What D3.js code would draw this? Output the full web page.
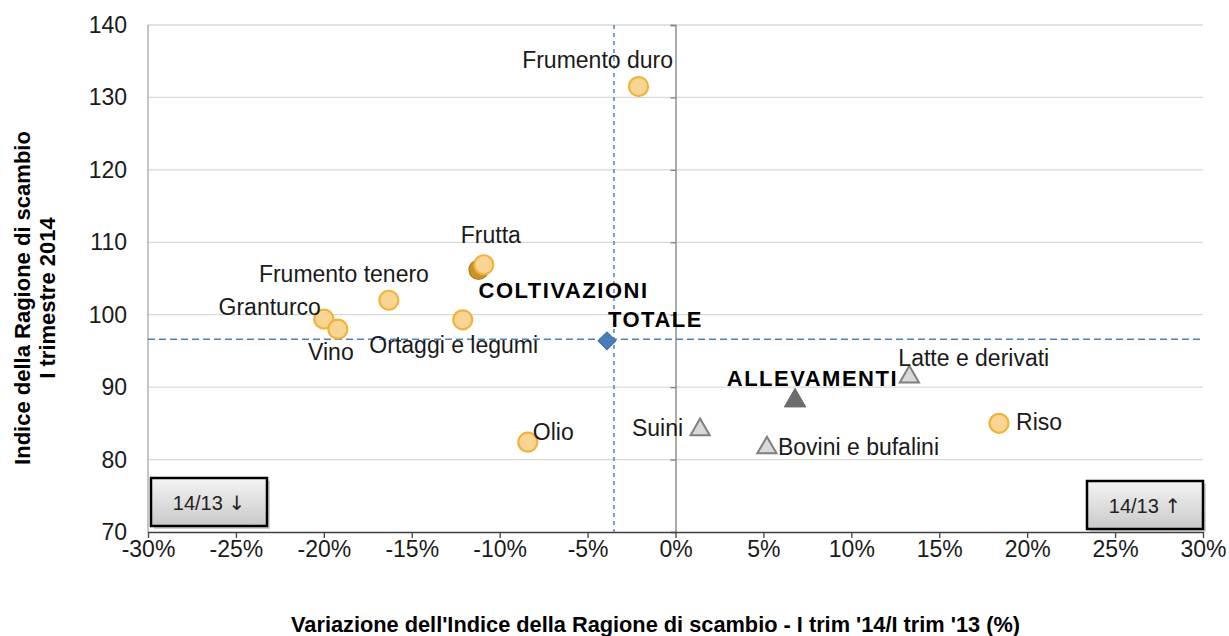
<!DOCTYPE html>
<html lang="it">
<head>
<meta charset="UTF-8">
<title>Ragione di scambio - I trimestre 2014</title>
<script src="https://d3js.org/d3.v7.min.js"></script>
<style>
    body { margin: 0; background: #fff; }
    svg { display: block; font-family: "Liberation Sans", Arial, sans-serif; }
    .tick-lab { font-size: 23px; fill: #1a1a1a; }
    .pt-lab { font-size: 23px; fill: #1a1a1a; }
    .pt-lab.bold { font-weight: bold; font-size: 22px; letter-spacing: 1.5px; fill: #000; }
    .ax-title { font-weight: bold; font-size: 22px; fill: #000; }
    .arrow { font-family: "DejaVu Sans", sans-serif; font-size: 20px; }
</style>
</head>
<body>
<svg width="1229" height="636"></svg>
<script>
    // data
    const names = ["Frumento duro", "Frutta", "COLTIVAZIONI", "Frumento tenero", "Granturco", "Vino",
        "Ortaggi e legumi", "Olio", "TOTALE", "Latte e derivati", "ALLEVAMENTI", "Suini",
        "Bovini e bufalini", "Riso"];
    const variazione = [-2.1, -10.9, -11.2, -16.3, -20.0, -19.2, -12.1, -8.4, -3.9, 13.3, 6.8, 1.4, 5.2, 18.4];
    const indice = [131.5, 106.9, 106.2, 102.0, 99.4, 98.0, 99.3, 82.4, 96.4, 91.7, 88.4, 84.4, 81.9, 85.0];
    const kinds = ["colt", "colt", "coltTot", "colt", "colt", "colt", "colt", "colt", "tot", "all", "allTot",
        "all", "all", "colt"];
    const refX = -3.5;   // vertical dashed line (%)
    const refY = 96.6;   // horizontal dashed line
    const xTicks = [-30, -25, -20, -15, -10, -5, 0, 5, 10, 15, 20, 25, 30];
    const yTicks = [70, 80, 90, 100, 110, 120, 130, 140];

    // label placement: [anchor, dx, dy] relative to the marker
    const labelPos = {
        "Frumento duro": ["middle", -41, -19],
        "Frutta": ["middle", 7, -22],
        "COLTIVAZIONI": ["start", 0, 28],
        "Frumento tenero": ["middle", -45, -18],
        "Granturco": ["end", -3, -4],
        "Vino": ["middle", -7, 31],
        "Ortaggi e legumi": ["middle", -9, 33],
        "Olio": ["start", 5, -2],
        "TOTALE": ["start", 1, -14],
        "Latte e derivati": ["start", -11, -9],
        "ALLEVAMENTI": ["end", 103, -13],
        "Suini": ["end", -17, 8],
        "Bovini e bufalini": ["start", 11, 9],
        "Riso": ["start", 17, 7]
    };

    // draw COLTIVAZIONI first so Frutta sits on top of it
    const order = [2, 0, 1, 3, 4, 5, 6, 7, 8, 9, 10, 11, 12, 13];
    const data = order.map(i => ({name: names[i], x: variazione[i], y: indice[i], kind: kinds[i]}));

    const svg = d3.select("svg");
    const pLeft = 148, pRight = 1203, pTop = 25, pBottom = 532;
    const x = d3.scaleLinear().domain([-30, 30]).range([pLeft, pRight]);
    const y = d3.scaleLinear().domain([70, 140]).range([pBottom, pTop]);

    const defs = svg.append("defs");
    const grad = defs.append("linearGradient").attr("id", "boxGrad")
        .attr("x1", 0).attr("y1", 0).attr("x2", 0).attr("y2", 1);
    grad.append("stop").attr("offset", "0%").attr("stop-color", "#f4f4f4");
    grad.append("stop").attr("offset", "100%").attr("stop-color", "#c9c9c9");

    // horizontal gridlines
    svg.append("g").selectAll("line")
        .data(yTicks.slice(1))
        .enter().append("line")
        .attr("x1", pLeft).attr("x2", pRight)
        .attr("y1", d => y(d)).attr("y2", d => y(d))
        .attr("stroke", "#d9d9d9").attr("stroke-width", 1.3);

    // left border of plot area
    svg.append("line")
        .attr("x1", pLeft).attr("x2", pLeft).attr("y1", pTop).attr("y2", pBottom)
        .attr("stroke", "#a6a6a6").attr("stroke-width", 1.3);

    // y tick labels (low position)
    svg.append("g").selectAll("text")
        .data(yTicks)
        .enter().append("text")
        .attr("class", "tick-lab")
        .attr("x", 127).attr("y", d => y(d) + 8)
        .attr("text-anchor", "end")
        .text(d => d);

    // vertical axis crossing at 0%
    const yAxis = d3.axisLeft(y).tickValues(yTicks).tickSize(5).tickFormat("");
    const yg = svg.append("g").attr("transform", `translate(${x(0)},0)`).call(yAxis);
    yg.select(".domain").attr("stroke", "#7f7f7f").attr("stroke-width", 1.3);
    yg.selectAll(".tick line").attr("stroke", "#7f7f7f").attr("stroke-width", 1.3);

    // x axis
    const xAxis = d3.axisBottom(x).tickValues(xTicks).tickSize(6).tickSizeOuter(0)
        .tickFormat(d => d + "%");
    const xg = svg.append("g").attr("transform", `translate(0,${pBottom})`).call(xAxis);
    xg.attr("font-family", null).attr("font-size", null);
    xg.select(".domain").attr("stroke", "#404040").attr("stroke-width", 1.5);
    xg.selectAll(".tick line").attr("stroke", "#404040").attr("stroke-width", 1.3);
    xg.selectAll(".tick text").attr("class", "tick-lab").attr("fill", null);

    // reference dashed lines
    svg.append("line")
        .attr("x1", pLeft).attr("x2", pRight).attr("y1", y(refY)).attr("y2", y(refY))
        .attr("stroke", "#4f81bd").attr("stroke-width", 1.5).attr("stroke-dasharray", "7,4");
    svg.append("line")
        .attr("x1", x(refX)).attr("x2", x(refX)).attr("y1", pTop).attr("y2", pBottom)
        .attr("stroke", "#4f81bd").attr("stroke-width", 1.5).attr("stroke-dasharray", "4,4");

    // markers
    const tri = d3.symbol().type(d3.symbolTriangle);
    const diam = d3.symbol().type(d3.symbolSquare).size(160);
    const pts = svg.append("g");
    data.forEach(d => {
        const cx = x(d.x), cy = y(d.y);
        if (d.kind === "colt") {
            pts.append("circle").attr("cx", cx).attr("cy", cy).attr("r", 9.5)
                .attr("fill", "#f9d593").attr("stroke", "#f0b43c").attr("stroke-width", 2.2);
        } else if (d.kind === "coltTot") {
            pts.append("circle").attr("cx", cx).attr("cy", cy).attr("r", 9.5)
                .attr("fill", "#c9922c").attr("stroke", "#b7801f").attr("stroke-width", 1.5);
        } else if (d.kind === "all") {
            pts.append("path").attr("d", tri.size(160)())
                .attr("transform", `translate(${cx},${cy + 2})`)
                .attr("fill", "#d9d9d9").attr("stroke", "#7f7f7f").attr("stroke-width", 2);
        } else if (d.kind === "allTot") {
            pts.append("path").attr("d", tri.size(200)())
                .attr("transform", `translate(${cx},${cy + 2})`)
                .attr("fill", "#6d6d6d").attr("stroke", "#6d6d6d").attr("stroke-width", 1);
        } else {
            pts.append("path").attr("d", diam())
                .attr("transform", `translate(${cx},${cy}) rotate(45)`)
                .attr("fill", "#4a7ebb").attr("stroke", "#3f6fa8").attr("stroke-width", 1);
        }
    });

    // point labels
    svg.append("g").selectAll("text")
        .data(data)
        .enter().append("text")
        .attr("class", d => "pt-lab" + (d.kind === "coltTot" || d.kind === "allTot" || d.kind === "tot" ? " bold" : ""))
        .attr("x", d => x(d.x) + labelPos[d.name][1])
        .attr("y", d => y(d.y) + labelPos[d.name][2])
        .attr("text-anchor", d => labelPos[d.name][0])
        .text(d => d.name);

    // corner boxes
    const boxes = [
        {label: "14/13 ", arrow: "\u2193", x0: 151, y0: 478},
        {label: "14/13 ", arrow: "\u2191", x0: 1087, y0: 481}
    ];
    boxes.forEach(b => {
        const g = svg.append("g");
        g.append("rect").attr("x", b.x0 + 3).attr("y", b.y0 + 3).attr("width", 116).attr("height", 48)
            .attr("fill", "#b0b0b0").attr("opacity", 0.6);
        g.append("rect").attr("x", b.x0).attr("y", b.y0).attr("width", 116).attr("height", 48)
            .attr("fill", "url(#boxGrad)").attr("stroke", "#000").attr("stroke-width", 2.5);
        const t = g.append("text").attr("x", b.x0 + 58).attr("y", b.y0 + 32)
            .attr("text-anchor", "middle").attr("font-size", 20).attr("fill", "#222");
        t.append("tspan").text(b.label);
        t.append("tspan").attr("class", "arrow").attr("fill", "#222").text(b.arrow);
    });

    // axis titles
    svg.append("text").attr("class", "ax-title")
        .attr("transform", "translate(30,298) rotate(-90)")
        .attr("text-anchor", "middle")
        .text("Indice della Ragione di scambio");
    svg.append("text").attr("class", "ax-title")
        .attr("transform", "translate(55,298) rotate(-90)")
        .attr("text-anchor", "middle")
        .text("I trimestre 2014");
    svg.append("text").attr("class", "ax-title")
        .attr("x", 291).attr("y", 632)
        .attr("textLength", 729).attr("lengthAdjust", "spacingAndGlyphs")
        .text("Variazione dell'Indice della Ragione di scambio  -  I trim '14/I trim '13 (%)");
</script>
</body>
</html>
